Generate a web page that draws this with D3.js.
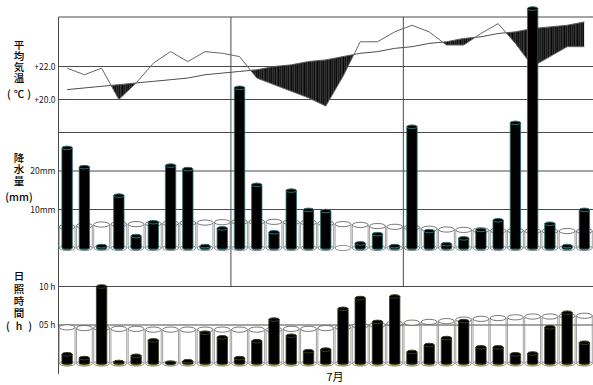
<!DOCTYPE html>
<html>
<head>
<meta charset="utf-8">
<script src="https://cdn.jsdelivr.net/npm/d3@7/dist/d3.min.js"></script>
<style>
  html, body { margin: 0; padding: 0; background: #fff; }
  svg { display: block; }
  .jp { font-family: "Noto Sans CJK JP", "Noto Sans", sans-serif; }
  .vert { writing-mode: vertical-rl; text-orientation: upright; }
</style>
</head>
<body>
<svg id="chart" width="593" height="385"></svg>
<script>
// July daily weather: mean temperature, precipitation and sunshine with normals
const days = [1,2,3,4,5,6,7,8,9,10,11,12,13,14,15,16,17,18,19,20,21,22,23,24,25,26,27,28,29,30,31];

const tempMean = [21.9,21.5,21.9,20.0,21.0,22.2,22.9,22.3,22.9,22.8,22.6,21.3,20.9,20.5,20.1,19.6,
                  21.4,23.5,23.5,24.1,24.5,24.1,23.3,23.3,24.0,24.6,23.4,22.0,22.6,23.2,23.2];
const tempNormal = [20.6,20.7,20.8,20.9,21.0,21.1,21.2,21.3,21.5,21.6,21.7,21.8,22.0,22.1,22.3,22.4,
                    22.6,22.8,22.9,23.1,23.2,23.4,23.5,23.7,23.8,24.0,24.1,24.3,24.4,24.5,24.7];

const precip = [26.0,21.0,0.5,13.6,3.1,6.7,21.4,20.5,0.5,5.1,41.6,16.4,4.1,14.9,9.9,9.6,
                0,1.2,3.6,0.5,31.5,4.4,1.0,2.5,4.7,7.2,32.5,62.2,6.3,0.5,9.9];
const precipNormal = [5.5,5.8,6.1,6.2,6.2,6.3,6.4,6.5,6.6,6.7,6.8,6.8,6.8,6.7,6.6,6.4,
                      6.2,6.0,5.7,5.5,5.3,5.0,4.8,4.7,4.6,4.5,4.5,4.4,4.4,4.4,4.4];

const sunshine = [1.2,0.7,10.0,0.2,1.0,3.0,0.1,0.3,4.0,3.4,0.7,2.9,5.7,3.6,1.6,1.8,
                  7.1,8.5,5.4,8.7,1.5,2.4,3.3,5.5,2.1,2.1,1.2,1.3,4.7,6.6,2.7];
const sunshineNormal = [4.7,4.6,4.6,4.5,4.5,4.4,4.4,4.4,4.4,4.4,4.4,4.4,4.4,4.5,4.5,4.6,
                        4.7,4.9,5.0,5.2,5.3,5.4,5.5,5.7,5.8,5.9,6.0,6.1,6.1,6.2,6.2];

const tempTicks = [22, 20];
const precipTicks = [20, 10];
const sunTicks = [10, 5];
const tempTitle = "平均気温", tempUnit = "(℃)";
const precipTitle = "降水量", precipUnit = "(mm)";
const sunTitle = "日照時間", sunUnit = "( h )";
const monthLabel = "7月";

// ---- layout ----
const plotL = 58.5, plotR = 593, plotT = 17, panelH = 115.5;
const svg = d3.select("#chart");

const x = d3.scaleBand().domain(days).range([plotL, plotR]).padding(0);
const cx = d => x(d) + x.bandwidth() / 2;

const yT = d3.scaleLinear().domain([18, 25]).range([plotT + panelH, plotT]);
const yP = d3.scaleLinear().domain([0, 30]).range([plotT + 2 * panelH, plotT + panelH]);
const yS = d3.scaleLinear().domain([0, 15]).range([plotT + 3 * panelH, plotT + 2 * panelH]);

const gridColor = "#4a4a4a";

// ---- stripe pattern for the below-normal temperature fill ----
const defs = svg.append("defs");
const stripes = ["#1e1e1e","#303030","#111","#383838","#252525","#080808","#2e2e2e","#1a1a1a",
                 "#3a3a3a","#141414","#2a2a2a","#0e0e0e","#343434"];
const pat = defs.append("pattern")
  .attr("id", "stripes").attr("patternUnits", "userSpaceOnUse")
  .attr("width", stripes.length).attr("height", 10);
stripes.forEach((c, i) => pat.append("rect").attr("x", i).attr("y", 0)
  .attr("width", 1).attr("height", 10).attr("fill", c));

// ---- grid ----
const grid = svg.append("g");
const hLines = [yT(25), yT(22), yT(20), yP(30), yP(20), yP(10), yS(10), yS(5)];
grid.selectAll("line.h").data(hLines).join("line")
  .attr("x1", plotL).attr("x2", plotR).attr("y1", d => d).attr("y2", d => d)
  .attr("stroke", gridColor).attr("stroke-width", 1);
// ten-day separators
grid.selectAll("line.v").data([11, 21]).join("line")
  .attr("x1", d => x(d)).attr("x2", d => x(d))
  .attr("y1", plotT).attr("y2", yS(10))
  .attr("stroke", gridColor).attr("stroke-width", 1);
// left axis line
grid.append("line").attr("x1", plotL).attr("x2", plotL)
  .attr("y1", plotT).attr("y2", 374).attr("stroke", gridColor).attr("stroke-width", 1);

// ---- temperature ----
const tData = days.map((d, i) => ({ d, t: tempMean[i], n: tempNormal[i] }));
defs.append("clipPath").attr("id", "belowNormal").append("path")
  .attr("d", d3.area().x(p => cx(p.d)).y0(400).y1(p => yT(p.n))(tData));

svg.append("path")
  .attr("d", d3.area().x(p => cx(p.d)).y0(p => yT(p.n)).y1(p => yT(p.t))(tData))
  .attr("fill", "url(#stripes)")
  .attr("clip-path", "url(#belowNormal)");

svg.append("path")
  .attr("d", d3.line().x(p => cx(p.d)).y(p => yT(p.n))(tData))
  .attr("fill", "none").attr("stroke", "#555").attr("stroke-width", 1);
svg.append("path")
  .attr("d", d3.line().x(p => cx(p.d)).y(p => yT(p.t))(tData))
  .attr("fill", "none").attr("stroke", "#666").attr("stroke-width", 1);

// ---- cylinders ----
function glassCylinder(g, x0, yTop, yBase, rx, ry) {
  g.append("ellipse").attr("cx", x0).attr("cy", yBase).attr("rx", rx).attr("ry", ry)
    .attr("fill", "#fff").attr("stroke", "#777").attr("stroke-width", 0.8);
  g.append("line").attr("x1", x0 - rx).attr("x2", x0 - rx).attr("y1", yTop).attr("y2", yBase)
    .attr("stroke", "#8a8a8a").attr("stroke-width", 0.8);
  g.append("line").attr("x1", x0 + rx).attr("x2", x0 + rx).attr("y1", yTop).attr("y2", yBase)
    .attr("stroke", "#8a8a8a").attr("stroke-width", 0.8);
  g.append("ellipse").attr("cx", x0).attr("cy", yTop).attr("rx", rx).attr("ry", ry)
    .attr("fill", "#fff").attr("stroke", "#555").attr("stroke-width", 0.8);
}
function solidCylinder(g, x0, yTop, yBase, rx, ry, edge, baseEdge, baseFill) {
  g.append("ellipse").attr("cx", x0).attr("cy", yBase).attr("rx", rx).attr("ry", ry)
    .attr("fill", baseFill).attr("stroke", baseEdge).attr("stroke-width", 1);
  if (yBase - yTop > 0.5) {
    g.append("rect").attr("x", x0 - rx).attr("y", yTop).attr("width", 2 * rx)
      .attr("height", yBase - yTop).attr("fill", "#000");
    g.append("line").attr("x1", x0 - rx).attr("x2", x0 - rx).attr("y1", yTop).attr("y2", yBase)
      .attr("stroke", edge).attr("stroke-width", 0.8);
    g.append("line").attr("x1", x0 + rx).attr("x2", x0 + rx).attr("y1", yTop).attr("y2", yBase)
      .attr("stroke", edge).attr("stroke-width", 0.8);
    g.append("ellipse").attr("cx", x0).attr("cy", yTop).attr("rx", rx).attr("ry", ry)
      .attr("fill", "#000").attr("stroke", edge).attr("stroke-width", 1);
  }
}

const rxW = 7.9, ryW = 2.6, rxB = 5.2, ryB = 1.8;

// precipitation
const gP = svg.append("g");
days.forEach((d, i) => glassCylinder(gP, cx(d), yP(precipNormal[i]), yP(0), rxW, ryW));
days.forEach((d, i) => {
  if (precip[i] > 0)
    solidCylinder(gP, cx(d), yP(precip[i]), yP(0), rxB, ryB, "#2f6f6f", "#2f7a7a", "#0d2a2a");
});

// sunshine
const gS = svg.append("g");
days.forEach((d, i) => glassCylinder(gS, cx(d), yS(sunshineNormal[i]), yS(0), rxW, ryW));
days.forEach((d, i) => {
  if (sunshine[i] > 0)
    solidCylinder(gS, cx(d), yS(sunshine[i]), yS(0), rxB, ryB, "#3a3a22", "#a8a02a", "#2a2a10");
});

// ---- axes ----
function leftAxis(scale, ticks, fmt) {
  const g = svg.append("g").attr("transform", `translate(${plotL - 2},0)`)
    .call(d3.axisLeft(scale).tickValues(ticks).tickSize(0).tickPadding(1).tickFormat(fmt));
  g.select(".domain").remove();
  g.selectAll("text").attr("class", "jp").attr("font-size", 8.5).attr("fill", "#222");
  return g;
}
leftAxis(yT, tempTicks, v => "+" + d3.format(".1f")(v));
leftAxis(yP, precipTicks, v => v + "mm");
leftAxis(yS, sunTicks, v => d3.format("02d")(v) + " h");

// ---- vertical titles ----
function vTitle(title, yTop, spacing, unit, unitY, unitW) {
  svg.append("text").attr("class", "jp vert")
    .attr("x", 19).attr("y", yTop)
    .attr("font-size", 10.5).attr("font-weight", 500).attr("fill", "#000")
    .style("letter-spacing", spacing + "px")
    .text(title);
  const u = svg.append("text").attr("class", "jp")
    .attr("x", 19).attr("y", unitY).attr("dy", "0.35em")
    .attr("text-anchor", "middle")
    .attr("font-size", 10.5).attr("font-weight", 500).attr("fill", "#000")
    .text(unit);
  if (unitW) u.attr("x", 19 - unitW / 2).attr("text-anchor", "start")
    .attr("textLength", unitW).attr("lengthAdjust", "spacing");
}
vTitle(tempTitle, 39.5, 0.6, tempUnit, 94, 24);
vTitle(precipTitle, 152.5, 1.0, precipUnit, 197.5, 0);
vTitle(sunTitle, 271, 1.8, sunUnit, 326, 26);

svg.append("text").attr("class", "jp").attr("x", 335).attr("y", 381)
  .attr("text-anchor", "middle").attr("font-size", 11).attr("fill", "#000").text(monthLabel);
</script>
</body>
</html>
